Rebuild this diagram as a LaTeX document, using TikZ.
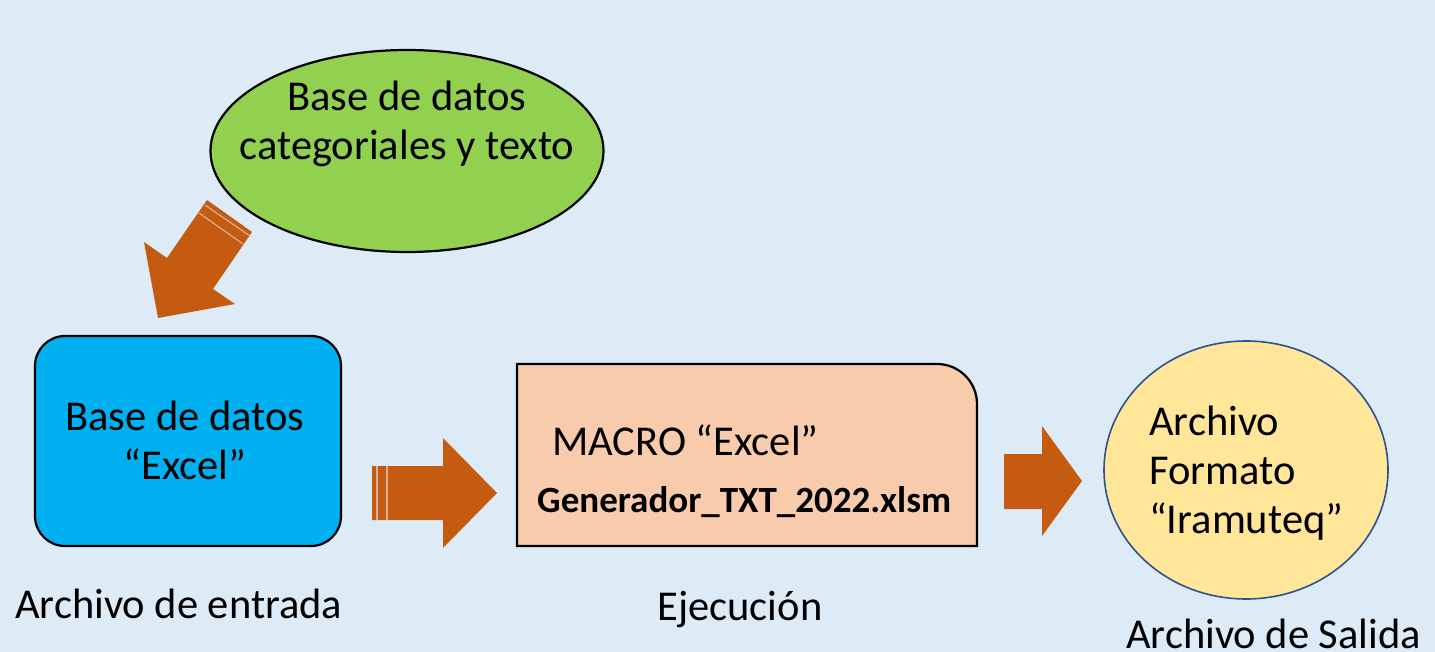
\documentclass[tikz,border=0pt]{standalone}
\usepackage{fontspec}
\setmainfont{Carlito}
\usetikzlibrary{shapes.geometric}
\definecolor{bg}{RGB}{221,235,247}
\definecolor{grn}{RGB}{146,208,80}
\definecolor{blu}{RGB}{0,176,240}
\definecolor{pch}{RGB}{248,203,173}
\definecolor{ylw}{RGB}{255,230,153}
\definecolor{org}{RGB}{197,90,17}
\definecolor{dkblue}{RGB}{47,82,143}
\tikzset{
  txt/.style={font=\fontsize{42.5}{49}\selectfont, align=center, inner sep=0pt},
  lbl/.style={font=\fontsize{42.5}{49}\selectfont, inner sep=0pt, anchor=base},
  blockarrow/.style={fill=org, draw=none},
  stripe/.style={draw=bg!60!org, line width=1.2pt},
  shapeline/.style={draw=black, line width=2.2pt},
}
\begin{document}
\begin{tikzpicture}[x=1pt,y=-1pt]
\useasboundingbox (0,0) rectangle (1435,652);
\fill[bg] (0,0) rectangle (1435,652);
% green ellipse
\node[ellipse, shapeline, fill=grn, minimum width=393pt, minimum height=202pt, inner sep=0pt] (db) at (407,151) {};
\node[txt, anchor=base] (dbtxt) at (407,160) {Base de datos\\categoriales y texto};
% blue rounded box
\draw[shapeline, fill=blu, rounded corners=30pt] (35,336) rectangle (341,546);
\node[txt, anchor=base] (excel) at (185,479) {Base de datos\\“Excel”};
% peach box
\draw[shapeline, fill=pch] (517,546) -- (517,364) -- (937,364) arc[start angle=90, end angle=0, radius=40pt] -- (977,546) -- cycle;
\node[txt, anchor=base west] (macro) at (552,455) {MACRO “Excel”};
\node[txt, anchor=base west, font=\fontsize{37}{44}\selectfont\bfseries] (gen) at (537,512) {Generador\_TXT\_2022.xlsm};
% yellow circle
\node[ellipse, draw=dkblue, line width=1.6pt, fill=ylw, minimum width=284pt, minimum height=258pt, inner sep=0pt] (out) at (1246,470) {};
\node[txt, align=left, anchor=base west] (outtxt) at (1149,533) {Archivo\\Formato\\“Iramuteq”};
% labels
\node[lbl, anchor=base west] (l1) at (15,618) {Archivo de entrada};
\node[lbl] (l2) at (740,620) {Ejecución};
\node[lbl, anchor=base west] (l3) at (1126,648) {Archivo de Salida};
% arrow 1 (diagonal)
\fill[blockarrow] (207,200) -- (252,232) -- (213,289) -- (235,304) -- (158,318) -- (144,242) -- (167,258) -- cycle;
\draw[stripe] (205,205) -- (250,236);
\draw[stripe] (199,213) -- (243,244);
% arrow 2
\fill[blockarrow] (372,466) -- (443,466) -- (443,438) -- (497,493) -- (443,548) -- (443,520) -- (372,520) -- cycle;
\draw[stripe] (377,466) -- (377,520);
\draw[stripe] (387,466) -- (387,520);
% arrow 3
\fill[blockarrow] (1004,454) -- (1042,454) -- (1042,426) -- (1082,481) -- (1042,536) -- (1042,509) -- (1004,509) -- cycle;
\end{tikzpicture}
\end{document}
